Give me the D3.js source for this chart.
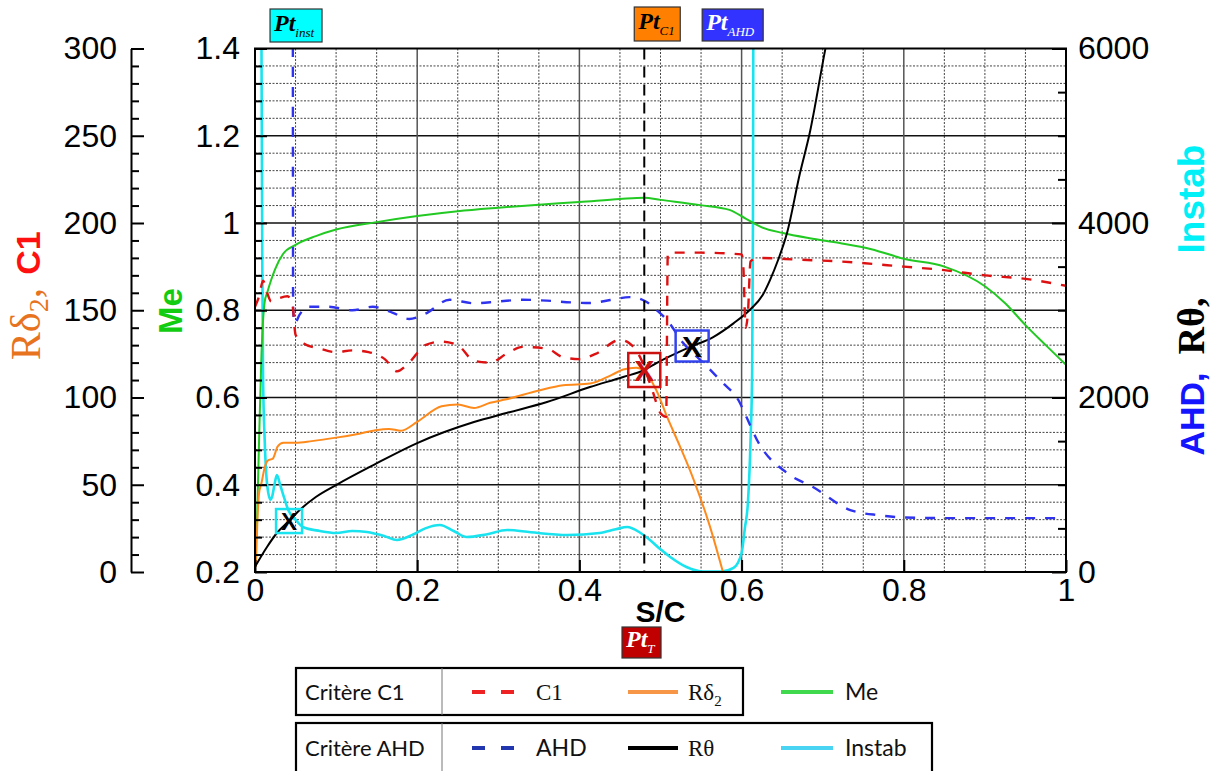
<!DOCTYPE html>
<html><head><meta charset="utf-8">
<script src="https://cdn.jsdelivr.net/npm/d3@7"></script>
<style>body{margin:0;background:#fff}svg{display:block}</style>
</head><body>
<svg id="c" width="1221" height="771"></svg>
<script>
// ---------------- DATA ----------------
const xTicks = [0, 0.2, 0.4, 0.6, 0.8, 1];
const leftTicks = [0, 50, 100, 150, 200, 250, 300];
const meTicks = [0.2, 0.4, 0.6, 0.8, 1, 1.2, 1.4];
const rightTicks = [0, 2000, 4000, 6000];

// Me (Mach number), middle-left axis
const meData = [[0.002,0.28],[0.005,0.5],[0.008,0.7],[0.012,0.82],[0.015,0.84],[0.02,0.87],[0.025,0.895],[0.035,0.93],[0.05,0.95],[0.075,0.97],[0.1,0.985],[0.15,1.002],[0.2,1.016],[0.25,1.027],[0.3,1.035],[0.35,1.042],[0.4,1.048],[0.45,1.055],[0.48,1.058],[0.5,1.053],[0.549,1.041],[0.585,1.03],[0.605,1.01],[0.625,0.99],[0.651,0.977],[0.684,0.965],[0.721,0.954],[0.76,0.94],[0.8,0.918],[0.85,0.9],[0.9,0.855],[0.925,0.816],[0.95,0.766],[0.975,0.72],[1,0.675]];
// C1, left axis
const c1Data = [[0,152],[0.005,158],[0.01,167],[0.015,160],[0.02,155],[0.03,157],[0.04,158],[0.046,154],[0.05,136],[0.06,131],[0.08,128],[0.1,126],[0.12,127],[0.14,126],[0.16,122],[0.175,115],[0.19,120],[0.21,130],[0.23,132],[0.25,130],[0.27,121],[0.29,120],[0.31,125],[0.33,129],[0.36,128],[0.38,123],[0.4,122],[0.42,125],[0.45,133],[0.462,131],[0.475,123],[0.49,104],[0.5,91],[0.507,89],[0.509,183],[0.55,183],[0.6,182],[0.602,176],[0.605,140],[0.608,150],[0.611,178],[0.62,180],[0.67,179],[0.72,178],[0.8,175],[0.85,173],[0.9,170],[0.95,168],[1,164]];
// R delta2, left axis
const rd2Data = [[0.001,3],[0.003,30],[0.005,45],[0.008,51],[0.012,60],[0.016,64],[0.022,65],[0.028,72],[0.035,74],[0.05,74],[0.07,75],[0.1,77],[0.125,79],[0.146,81],[0.165,82],[0.18,81],[0.2,86],[0.23,95],[0.25,96],[0.27,94],[0.29,97],[0.31,99],[0.35,104],[0.38,107],[0.413,108],[0.44,113],[0.454,116],[0.47,117],[0.48,115],[0.495,104],[0.508,89],[0.524,72],[0.54,54],[0.561,26],[0.577,0]];
// AHD, right axis
const ahdData = [[0.0465,9000],[0.047,3000],[0.049,2850],[0.055,2950],[0.065,3040],[0.09,3040],[0.12,3000],[0.145,3040],[0.17,2970],[0.19,2900],[0.21,2960],[0.24,3120],[0.27,3080],[0.3,3100],[0.33,3120],[0.36,3110],[0.39,3090],[0.413,3083],[0.438,3117],[0.462,3151],[0.483,3094],[0.495,3003],[0.508,2888],[0.528,2624],[0.553,2395],[0.577,2166],[0.596,1971],[0.606,1776],[0.619,1513],[0.656,1134],[0.688,974],[0.734,710],[0.77,650],[0.8,625],[0.85,618],[1,618]];
// R theta, right axis
const rthData = [[0,60],[0.015,290],[0.027,447],[0.042,584],[0.055,710],[0.075,860],[0.1,997],[0.146,1226],[0.2,1478],[0.27,1719],[0.31,1822],[0.36,1948],[0.413,2120],[0.454,2235],[0.48,2315],[0.495,2395],[0.536,2578],[0.565,2693],[0.59,2850],[0.61,3003],[0.626,3174],[0.635,3346],[0.645,3576],[0.656,3885],[0.672,4572],[0.684,5031],[0.703,5982],[0.712,6400]];
// Instab, right axis
const instData = [[0.006,9000],[0.008,6000],[0.009,3500],[0.01,2200],[0.012,1500],[0.015,1000],[0.019,830],[0.021,860],[0.024,1000],[0.027,1110],[0.031,1000],[0.036,850],[0.041,711],[0.05,600],[0.059,516],[0.08,470],[0.1,447],[0.12,470],[0.138,458],[0.16,410],[0.175,367],[0.195,430],[0.21,500],[0.228,539],[0.245,470],[0.261,401],[0.285,430],[0.311,481],[0.34,455],[0.385,424],[0.425,447],[0.445,490],[0.459,516],[0.475,450],[0.487,367],[0.5,260],[0.512,172],[0.532,57],[0.553,5],[0.575,5],[0.59,46],[0.6,218],[0.604,500],[0.608,825],[0.611,1500],[0.613,2300],[0.614,4000],[0.615,9000]];

// transition points (S/C, R theta)
const markerPts = [[0.042,584],[0.48,2315],[0.539,2590]];
const transitionX = 0.48;
// label anchors (S/C)
const ptLabelX = [0.0506, 0.496, 0.589, 0.4766];

// ---------------- SCALES ----------------
const svg = d3.select("#c");
const x = d3.scaleLinear().domain([0,1]).range([255,1066]);
const yMe = d3.scaleLinear().domain([0.2,1.4]).range([572,48.5]);
const yL = d3.scaleLinear().domain([0,300]).range([572,48.5]);
const yR = d3.scaleLinear().domain([0,6000]).range([572,48.5]);
const SANS = "'Liberation Sans', Arial, sans-serif";
const SERIF = "'Liberation Serif', 'Times New Roman', serif";
const LEG = "Lato, 'Open Sans', sans-serif";

// ---------------- GRID ----------------
const grid = svg.append("g");
const meMinor = d3.range(0,31).map(i=>0.2+i*0.04).filter(v=>Math.abs(v/0.2-Math.round(v/0.2))>0.01);
grid.selectAll(".hm").data(meMinor).join("line")
  .attr("x1",x(0)).attr("x2",x(1)).attr("y1",d=>yMe(d)).attr("y2",d=>yMe(d))
  .attr("stroke","#444").attr("stroke-width",1).attr("stroke-dasharray","2,1.5");
const xMinor = d3.range(0,21).map(i=>i*0.05).filter(v=>Math.abs(v/0.2-Math.round(v/0.2))>0.01);
grid.selectAll(".vm").data(xMinor).join("line")
  .attr("x1",d=>x(d)).attr("x2",d=>x(d)).attr("y1",yMe(0.2)).attr("y2",yMe(1.4))
  .attr("stroke","#444").attr("stroke-width",1).attr("stroke-dasharray","2,1.5");
grid.selectAll(".hM").data(meTicks.slice(1,-1)).join("line")
  .attr("x1",x(0)).attr("x2",x(1)).attr("y1",d=>yMe(d)).attr("y2",d=>yMe(d))
  .attr("stroke","#111").attr("stroke-width",1.5);
grid.selectAll(".vM").data(xTicks.slice(1,-1)).join("line")
  .attr("x1",d=>x(d)).attr("x2",d=>x(d)).attr("y1",yMe(0.2)).attr("y2",yMe(1.4))
  .attr("stroke","#555").attr("stroke-width",1.5);

// ---------------- SERIES ----------------
svg.append("clipPath").attr("id","pc").append("rect")
  .attr("x",x(0)).attr("y",yMe(1.4)).attr("width",x(1)-x(0)).attr("height",yMe(0.2)-yMe(1.4));
const plot = svg.append("g").attr("clip-path","url(#pc)");
const mk = (ys)=>d3.line().x(d=>x(d[0])).y(d=>ys(d[1])).curve(d3.curveMonotoneX);
const series = [
  {data:instData, y:yR, color:"#19e3ef", w:2.6, dash:null},
  {data:meData, y:yMe, color:"#22c922", w:2, dash:null},
  {data:rd2Data, y:yL, color:"#ff8a1c", w:2, dash:null},
  {data:rthData, y:yR, color:"#000", w:2, dash:null},
  {data:ahdData, y:yR, color:"#2f33ee", w:2.4, dash:"10,10"},
  {data:c1Data, y:yL, color:"#dd1111", w:2.4, dash:"10,10"}
];
series.forEach(s=>{
  plot.append("path").datum(s.data).attr("d",mk(s.y)).attr("fill","none")
    .attr("stroke",s.color).attr("stroke-width",s.w)
    .attr("stroke-dasharray",s.dash);
});
// transition dashed line
plot.append("line").attr("x1",x(transitionX)).attr("x2",x(transitionX))
  .attr("y1",yMe(1.4)).attr("y2",yMe(0.2)).attr("stroke","#000").attr("stroke-width",2)
  .attr("stroke-dasharray","11,7");

// ---------------- FRAME ----------------
svg.append("rect").attr("x",x(0)).attr("y",yMe(1.4)).attr("width",x(1)-x(0)).attr("height",yMe(0.2)-yMe(1.4))
  .attr("fill","none").attr("stroke","#000").attr("stroke-width",2);

// ---------------- AXES ----------------
function styleAxis(g, size){
  g.attr("font-family",SANS).attr("font-size",size||32);
  g.selectAll("text").attr("fill","#000");
  g.selectAll("line").attr("stroke","#000").attr("stroke-width",2);
  g.select(".domain").attr("stroke","#000").attr("stroke-width",2);
}
// left 0-300 axis
const gL = svg.append("g").attr("transform","translate(131,0)")
  .call(d3.axisLeft(yL).tickValues(leftTicks).tickSizeInner(-13).tickSizeOuter(0).tickPadding(14).tickFormat(d3.format("d")));
styleAxis(gL);
const gLm = svg.append("g").attr("transform","translate(131,0)")
  .call(d3.axisLeft(yL).tickValues(d3.range(0,301,10).filter(v=>v%50)).tickSizeInner(-8).tickSizeOuter(0).tickFormat(""));
gLm.select(".domain").remove(); styleAxis(gLm);
// Me axis
const gM = svg.append("g").attr("transform",`translate(${x(0)},0)`)
  .call(d3.axisLeft(yMe).tickValues(meTicks).tickSizeInner(-12).tickSizeOuter(0).tickPadding(15).tickFormat(d3.format("~g")));
gM.select(".domain").remove(); styleAxis(gM);
const gMm = svg.append("g").attr("transform",`translate(${x(0)},0)`)
  .call(d3.axisLeft(yMe).tickValues(meMinor).tickSizeInner(-7).tickSizeOuter(0).tickFormat(""));
gMm.select(".domain").remove(); styleAxis(gMm);
// right axis
const gR = svg.append("g").attr("transform",`translate(${x(1)},0)`)
  .call(d3.axisRight(yR).tickValues(rightTicks).tickSizeInner(-14).tickSizeOuter(0).tickPadding(12).tickFormat(d3.format("d")));
gR.select(".domain").remove(); styleAxis(gR);
const gRm = svg.append("g").attr("transform",`translate(${x(1)},0)`)
  .call(d3.axisRight(yR).tickValues(d3.range(500,6000,500).filter(v=>v%2000)).tickSizeInner(-8).tickSizeOuter(0).tickFormat(""));
gRm.select(".domain").remove(); styleAxis(gRm);
// bottom axis
const gB = svg.append("g").attr("transform",`translate(0,${yMe(0.2)})`)
  .call(d3.axisBottom(x).tickValues(xTicks).tickSizeInner(-12).tickSizeOuter(0).tickPadding(6).tickFormat(d3.format("~g")));
gB.select(".domain").remove(); styleAxis(gB);

// ---------------- AXIS TITLES ----------------
function vtext(cx, cy){
  return svg.append("text").attr("transform",`translate(${cx},${cy}) rotate(-90)`).attr("text-anchor","middle");
}
// left title: R delta 2, C1
const t1 = vtext(40, 324).attr("fill","#e8731e");
t1.append("tspan").attr("font-family",SERIF).attr("font-size",42).text("Rδ");
t1.append("tspan").attr("font-family",SERIF).attr("font-size",28).attr("dy",8).text("2");
t1.append("tspan").attr("font-family",SERIF).attr("font-size",42).attr("dy",-8).text(",");
vtext(40, 253).attr("fill","#ff1010").attr("font-family",SANS).attr("font-weight","bold").attr("font-size",34).text("C1");
// Me
vtext(182, 311).attr("fill","#11cc11").attr("font-family",SANS).attr("font-weight","bold").attr("font-size",33).text("Me");
// right title
vtext(1204, 414).attr("fill","#1414ff").attr("font-family",SANS).attr("font-weight","bold").attr("font-size",34).text("AHD,");
vtext(1204, 326).attr("fill","#000").attr("font-family",SERIF).attr("font-weight","bold").attr("font-size",38).text("Rθ,");
vtext(1204, 199).attr("fill","#00f0f8").attr("font-family",SANS).attr("font-weight","bold").attr("font-size",37).text("Instab");
// S/C
svg.append("text").attr("x",x(0.5)).attr("y",622).attr("text-anchor","middle")
  .attr("font-family",SANS).attr("font-weight","bold").attr("font-size",30).text("S/C");

// ---------------- MARKERS ----------------
const markerStyle = [
  {stroke:"#19e3ef", w:26, h:24, xc:"#000", fs:24},
  {stroke:"#cc1111", w:32, h:34, xc:"#cc1111", fs:30},
  {stroke:"#3344ee", w:33, h:31, xc:"#000", fs:30}
];
markerPts.forEach((p,i)=>{
  const s = markerStyle[i], cx = x(p[0]), cy = yR(p[1]);
  svg.append("rect").attr("x",cx-s.w/2).attr("y",cy-s.h/2).attr("width",s.w).attr("height",s.h)
    .attr("fill","none").attr("stroke",s.stroke).attr("stroke-width",2.5);
  svg.append("text").attr("x",cx).attr("y",cy).attr("dy","0.36em").attr("text-anchor","middle")
    .attr("font-family",SANS).attr("font-weight","bold").attr("font-size",s.fs).attr("fill",s.xc).text("X");
});

// ---------------- Pt LABELS ----------------
const ptStyle = [
  {sub:"inst", fill:"#00ffff", tc:"#000", w:52, top:9, h:33},
  {sub:"C1", fill:"#ff8000", tc:"#000", w:46, top:7, h:34},
  {sub:"AHD", fill:"#3333ff", tc:"#fff", w:61, top:9, h:32},
  {sub:"T", fill:"#c00000", tc:"#fff", w:39, top:627, h:31}
];
ptStyle.forEach((s,i)=>{
  const cx = x(ptLabelX[i]), lx = cx - s.w/2;
  svg.append("rect").attr("x",lx).attr("y",s.top).attr("width",s.w).attr("height",s.h)
    .attr("fill",s.fill).attr("stroke","#333").attr("stroke-width",1.2);
  const t = svg.append("text").attr("x",lx+4).attr("y",s.top+s.h*0.66)
    .attr("font-family",SERIF).attr("font-style","italic").attr("fill",s.tc);
  t.append("tspan").attr("font-weight","bold").attr("font-size",24).text("Pt");
  t.append("tspan").attr("font-size",13).attr("dy",6).text(s.sub);
});

// ---------------- LEGEND ----------------
const legendRows = [
  {title:"Critère C1", y:692, box:[296,668,447,47], items:[
    {label:"C1", color:"#ee2222", dash:"13,16", font:SERIF},
    {label:"Rδ", sub:"2", color:"#f79646", dash:null, font:SERIF},
    {label:"Me", color:"#40d94e", dash:null, font:LEG}]},
  {title:"Critère AHD", y:748, box:[296,723,636,52], items:[
    {label:"AHD", color:"#2236b0", dash:"13,16", font:LEG},
    {label:"Rθ", color:"#000", dash:null, font:SERIF},
    {label:"Instab", color:"#48d4f2", dash:null, font:LEG}]}
];
const itemX = [[472,515,536],[628,678,688],[781,833,845]];
legendRows.forEach(r=>{
  const [bx,by,bw,bh] = r.box;
  svg.append("rect").attr("x",bx).attr("y",by).attr("width",bw).attr("height",bh)
    .attr("fill","#fff").attr("stroke","#000").attr("stroke-width",2.2);
  svg.append("line").attr("x1",442).attr("x2",442).attr("y1",by).attr("y2",by+bh)
    .attr("stroke","#777").attr("stroke-width",1);
  svg.append("text").attr("x",305).attr("y",r.y).attr("dy","0.35em")
    .attr("font-family",LEG).attr("font-size",22).attr("fill","#111").text(r.title);
  r.items.forEach((it,j)=>{
    const [a,b,tx] = itemX[j];
    svg.append("line").attr("x1",a).attr("x2",b).attr("y1",r.y).attr("y2",r.y)
      .attr("stroke",it.color).attr("stroke-width",4).attr("stroke-dasharray",it.dash);
    const t = svg.append("text").attr("x",tx).attr("y",r.y).attr("dy","0.35em")
      .attr("font-family",it.font).attr("font-size",23).attr("fill","#111");
    t.append("tspan").text(it.label);
    if(it.sub) t.append("tspan").attr("font-size",15).attr("dy",6).text(it.sub);
  });
});
</script>
</body></html>
